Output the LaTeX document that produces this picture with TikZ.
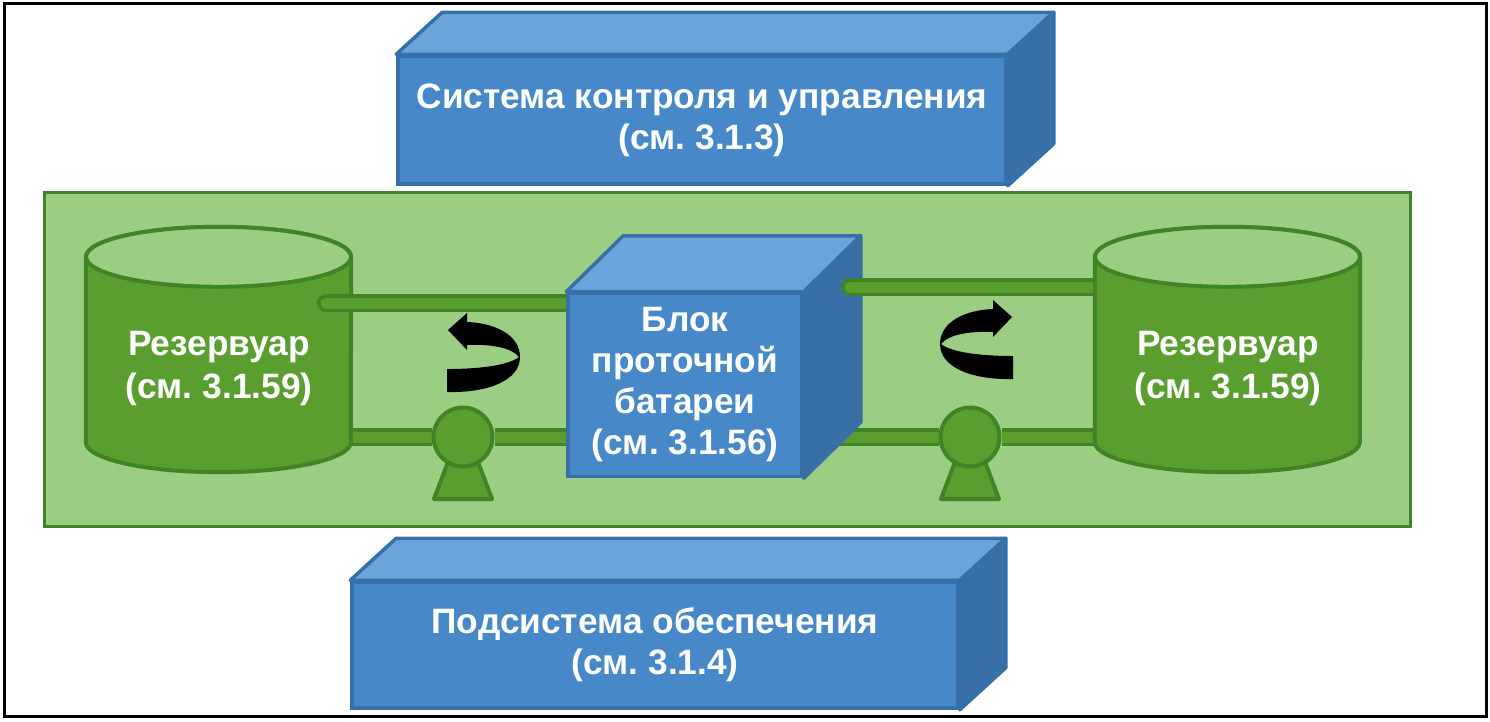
\documentclass[tikz,border=0pt]{standalone}
\usepackage{fontspec}
\setmainfont{Liberation Sans}
\usepackage{tikz}
\usetikzlibrary{calc}
\definecolor{panelfill}{HTML}{9BCD82}
\definecolor{tankfill}{HTML}{5A9E2F}
\definecolor{tankline}{HTML}{3F8427}
\definecolor{boxfill}{HTML}{4688C8}
\definecolor{boxtop}{HTML}{6BA3DB}
\definecolor{boxside}{HTML}{3670A6}
\pgfdeclarelayer{panellayer}
\pgfdeclarelayer{pipelayer}
\pgfdeclarelayer{boxlayer}
\pgfsetlayers{panellayer,pipelayer,main,boxlayer}
\tikzset{
  boxfront/.style={draw=boxside,line width=3.5pt,fill=boxfill,text=white,inner sep=0pt,
    align=center,font=\bfseries\frenchspacing\fontsize{35.3}{41}\selectfont},
  boxface/.style={draw=boxside,line width=3.5pt,line join=round},
  tank/.style={minimum width=265pt,minimum height=245pt,inner sep=0pt},
  tankbody/.style={draw=tankline,line width=4pt,fill=tankfill},
  tanktext/.style={text=white,align=center,font=\bfseries\frenchspacing\fontsize{35.3}{43}\selectfont},
  pipe/.style={draw=tankline,line width=3.5pt,double=tankfill,double distance=11pt},
  pump/.style={shape=circle,draw=tankline,line width=4pt,fill=tankfill,minimum size=59pt,inner sep=0pt},
  foot/.style={draw=tankline,line width=4pt,fill=tankfill,line join=round},
  turnarrow/.pic={
    \fill[black] (0,0) -- (0,23) .. controls (42,24) and (73,11) .. (73,-12)
      .. controls (73,-34) and (48,-46) .. (20,-47) -- (20,-56) -- (1,-39) -- (20,-19) -- (20,-24)
      .. controls (42,-25) and (64,-22) .. (72,-12) .. controls (62,-4) and (34,0) .. (0,0) -- cycle;
  }
}
\begin{document}
\begin{tikzpicture}[x=1pt,y=-1pt]
  \useasboundingbox (0,0) rectangle (1490,721);
  % panel
  \begin{pgfonlayer}{panellayer}
    \fill[white] (0,0) rectangle (1490,721);
    \draw[line width=3pt] (4,3) rectangle (1486,716);
    \node[draw=tankline,line width=3pt,fill=panelfill,minimum width=1366pt,minimum height=334pt,inner sep=0pt]
      (panel) at (727,359) {};
  \end{pgfonlayer}
  \node[tank] (tankl) at (218.5,349.5) {};
  \node[tank] (tankr) at (1227.5,349.5) {};
  % blocks
  \node[boxfront,minimum width=608pt,minimum height=128pt] (ctrl) at (702,120)
    {Система контроля и управления\\(см. 3.1.3)};
  \node[boxfront,minimum width=606pt,minimum height=126pt] (supp) at (655,645)
    {Подсистема обеспечения\\(см. 3.1.4)};
  \begin{pgfonlayer}{boxlayer}
    \node[boxfront,minimum width=234pt,minimum height=183pt] (cell) at (685,385)
      {Блок\\проточной\\батареи\\(см. 3.1.56)};
  \end{pgfonlayer}
  \foreach \b/\dx/\dy in {ctrl/46/42,supp/46/42,cell/57/56} {
    \draw[boxface,fill=boxtop] (\b.north west) -- ++(\dx,-\dy) -- ($(\b.north east)+(\dx,-\dy)$)
      -- (\b.north east) -- cycle;
    \draw[boxface,fill=boxside] (\b.north east) -- ++(\dx,-\dy) -- ($(\b.south east)+(\dx,-\dy)$)
      -- (\b.south east) -- cycle;
  }
  \coordinate (portl) at (326,303);
  \coordinate (portr) at (850,287);
  \draw[pipe,line cap=round] (portr) -- (portr -| tankr.west);
  % tanks
  \foreach \t in {tankl,tankr} {
    \draw[tankbody] ($(\t.north west)+(0,30)$) -- ($(\t.south west)+(0,-30)$)
      arc[start angle=180,end angle=360,x radius=132.5pt,y radius=30pt]
      -- ($(\t.north east)+(0,30)$)
      arc[start angle=0,end angle=180,x radius=132.5pt,y radius=30pt] -- cycle;
    \draw[tankbody,fill=panelfill] ($(\t.north)+(0,30)$) ellipse[x radius=132.5pt,y radius=30pt];
  }
  \node[tanktext] (labell) at (219,369) {Резервуар\\(см. 3.1.59)};
  \node[tanktext] (labelr) at (1228,369) {Резервуар\\(см. 3.1.59)};
  \draw[pipe,line cap=round] (portl) -- (portl -| cell.west);
  % pumps
  \node[pump] (pumpl) at (463,437) {};
  \node[pump] (pumpr) at (970,437) {};
  \begin{pgfonlayer}{pipelayer}
    \draw[pipe] (pumpl -| tankl.east) -- (pumpl);
    \draw[pipe] (pumpl) -- (pumpl -| cell.west);
    \draw[pipe] (pumpr -| cell.east) -- (pumpr);
    \draw[pipe] (pumpr) -- (pumpr -| tankr.west);
    \foreach \p in {pumpl,pumpr}
      \draw[foot] ($(\p)+(-15,25)$) -- ($(\p)+(15,25)$) -- ($(\p)+(29,62)$) -- ($(\p)+(-29,62)$) -- cycle;
  \end{pgfonlayer}
  % flow arrows
  \pic (turnl) at (447,369) {turnarrow};
  \pic[xscale=-1] (turnr) at (1013,356) {turnarrow};
\end{tikzpicture}
\end{document}
